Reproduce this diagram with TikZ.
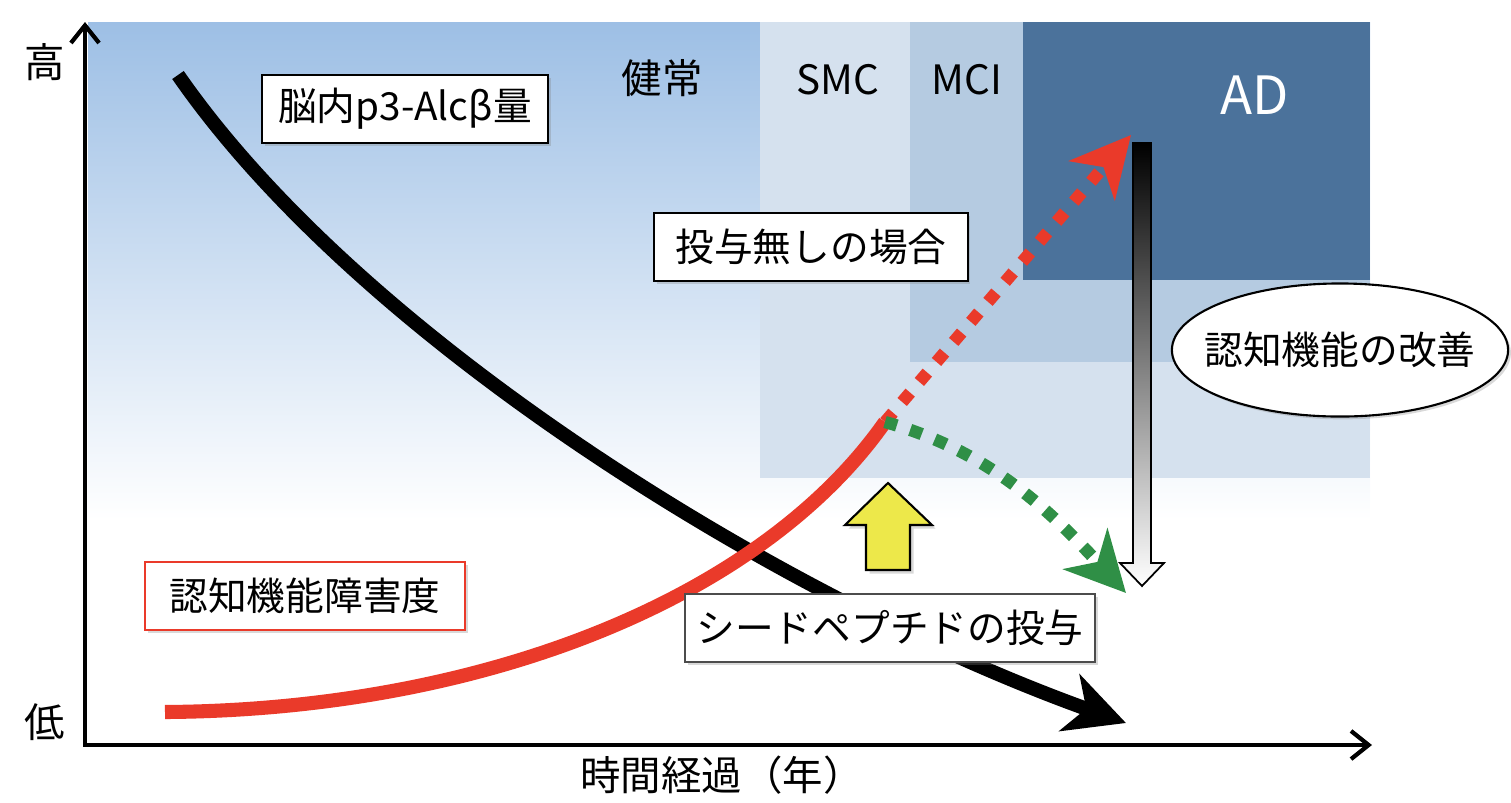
\documentclass[tikz,border=0pt]{standalone}
\usepackage{fontspec}
\setmainfont{Noto Sans CJK JP}
\usetikzlibrary{arrows.meta, shapes.geometric, shadows}

\definecolor{bgblue}{HTML}{9DBFE5}
\definecolor{smcfill}{HTML}{D5E1EE}
\definecolor{mcifill}{HTML}{B5CBE1}
\definecolor{adfill}{HTML}{4B729B}
\definecolor{curvered}{HTML}{EA3A2A}
\definecolor{dotgreen}{HTML}{2F8F46}
\definecolor{arrowyellow}{HTML}{EDE84A}

\begin{document}
\begin{tikzpicture}[>=latex, x=0.01cm, y=-0.01cm]

\tikzstyle{lbl}=[draw, fill=white, line width=0.6pt, minimum height=0.68cm, align=center, font=\fontsize{11}{13}\selectfont, drop shadow={opacity=0.3, shadow xshift=0.8pt, shadow yshift=-0.8pt}]
\tikzstyle{stage}=[inner sep=0pt, font=\fontsize{11.5}{13}\selectfont]
\tikzstyle{axlbl}=[inner sep=0pt, font=\fontsize{11.5}{13}\selectfont]
\tikzstyle{dotline}=[line width=3.5pt, dash pattern=on 3.5pt off 4pt]
\tikzstyle{bigtip}=[-{Stealth[length=17pt, width=17pt, inset=5pt]}]

\useasboundingbox (0,0) rectangle (1511,802);

% --- stage regions ---
\shade[top color=bgblue, bottom color=white] (88,22) rectangle (1370,520);
\fill[smcfill] (760,22) rectangle (1370,478);
\fill[mcifill] (910,22) rectangle (1370,362);
\fill[adfill] (1023,22) rectangle (1370,280);

\node[stage] (healthy) at (662,78) {健常};
\node[stage] (smc) at (838,80) {SMC};
\node[stage] (mci) at (967,80) {MCI};
\node[stage, text=white, font=\fontsize{15}{17}\selectfont] (ad) at (1255,95) {AD};

% --- axes ---
\coordinate (o) at (85,745);
\coordinate (ytop) at (85,22);
\coordinate (xend) at (1372,745);
\draw[line width=1.2pt, {Straight Barb[length=5pt, width=8pt]}-{Straight Barb[length=5pt, width=8pt]}] (ytop) -- (o) -- (xend);

\node[axlbl] (hi) at (45,62) {高};
\node[axlbl] (lo) at (45,722) {低};
\node[axlbl] (time) at (722,775) {時間経過（年）};

% --- p3-Alcb curve ---
\coordinate (b0) at (178,75);
\coordinate (b1) at (1126,723);
\draw[line width=4pt, bigtip] (b0) .. controls (363,342) and (786,601) .. (b1);

% --- cognitive impairment curve ---
\coordinate (r0) at (165,712);
\coordinate (r1) at (885,422);
\coordinate (ra) at (1131,135);
\coordinate (ga) at (1126,593);
\draw[line width=4pt, curvered] (r0) .. controls (480,710) and (760,600) .. (r1);
\draw[dotline, curvered, bigtip] (r1) -- (ra);
\draw[dotline, dotgreen, bigtip] (r1) .. controls (985,450) and (1045,505) .. (ga);

% --- seed peptide dosing ---
\filldraw[fill=arrowyellow, draw=black, line width=0.6pt, drop shadow={opacity=0.3, shadow xshift=1pt, shadow yshift=-1pt}]
  (888,483) -- (932,525) -- (910,525) -- (910,570) -- (866,570) -- (866,525) -- (845,525) -- cycle;

% --- improvement arrow ---
\shadedraw[top color=black, middle color=black!25, bottom color=white, line width=0.5pt]
  (1133,143) -- (1151,143) -- (1151,563) -- (1164,563) -- (1142,586) -- (1120,563) -- (1133,563) -- cycle;

% --- labels ---
\node[lbl, minimum width=2.86cm] (p3) at (405,109) {脳内p3-Alcβ量};
\node[lbl, minimum width=3.13cm] (nodose) at (811,247) {投与無しの場合};
\node[lbl, draw=curvered, minimum width=3.2cm] (cog) at (305,596) {認知機能障害度};
\node[lbl, draw=black!70, minimum width=4.0cm] (seed) at (890,628) {シードペプチドの投与};
\node[lbl, ellipse, inner xsep=-5pt, minimum width=3.36cm, minimum height=1.33cm] (improve) at (1340,350) {認知機能の改善};

\end{tikzpicture}
\end{document}
